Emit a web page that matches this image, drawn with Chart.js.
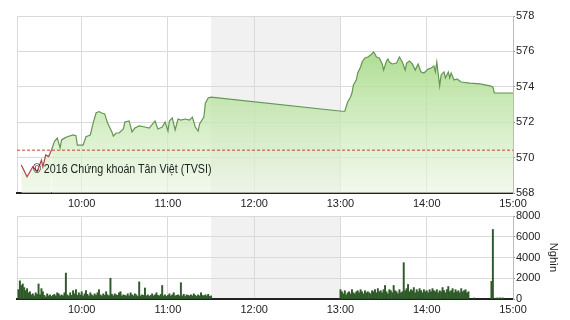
<!DOCTYPE html>
<html>
<head>
<meta charset="utf-8">
<script src="https://cdn.jsdelivr.net/npm/chart.js@4.4.1/dist/chart.umd.min.js"></script>
<style>
  html, body { margin:0; padding:0; background:#fff; }
  #wrap { position:relative; width:570px; height:320px; overflow:hidden; }
  #c1 { position:absolute; left:0; top:0; }
  #c2 { position:absolute; left:0; top:208px; }
  #copy { position:absolute; left:33px; top:162px; font:12px 'Liberation Sans', Arial, sans-serif; color:#222; white-space:nowrap; transform:scaleX(0.89); transform-origin:left center; }
</style>
</head>
<body>
<div id="wrap">
  <canvas id="c1" width="570" height="212"></canvas>
  <canvas id="c2" width="570" height="112"></canvas>
  <div id="copy">© 2016 Chứng khoán Tân Việt (TVSI)</div>
</div>
<script>
// ---------- data ----------
const sessionStart = '09:15';
const sessionEnd = '15:00';
const breakStart = '11:30';
const breakEnd = '13:00';
const hourTicks = ['10:00', '11:00', '12:00', '13:00', '14:00', '15:00'];
const referenceValue = 570.42;
const priceTicks = [568, 570, 572, 574, 576, 578];
const volumeTicks = [0, 2000, 4000, 6000, 8000];
const volumeUnit = 'Nghìn';

const priceTimes = [
  '09:18','09:22','09:26','09:29','09:32','09:33','09:35','09:37','09:39','09:41',
  '09:43','09:45','09:46','09:48','09:50','09:54','09:56','09:57','10:01','10:03',
  '10:06','10:08','10:10','10:12','10:14','10:16','10:18','10:21','10:22','10:24',
  '10:26','10:29','10:30','10:33','10:35','10:37','10:40','10:44','10:47','10:51',
  '10:53','10:56','10:58','11:00','11:01','11:03','11:05','11:07','11:09','11:12',
  '11:15','11:17','11:19','11:21','11:22','11:25','11:26','11:28','11:30',
  '13:01','13:03','13:05','13:07','13:08','13:09','13:11','13:12','13:14','13:15',
  '13:17','13:19','13:21','13:23','13:24','13:25','13:27','13:29','13:30','13:32',
  '13:33','13:34','13:36','13:39','13:40','13:41','13:43','13:45','13:46','13:48',
  '13:50','13:52','13:54','13:56','13:58','14:01','14:03','14:05','14:06','14:07',
  '14:09','14:10','14:12','14:13','14:15','14:16','14:17','14:19','14:21','14:24',
  '14:30','14:37','14:44','14:46','14:47','15:00'
];
const priceValues = [
  569.58,568.92,569.48,569.20,569.86,569.48,570.15,570.06,570.43,570.90,
  571.10,570.55,571.00,571.10,571.18,571.28,571.24,570.71,570.71,571.18,
  571.28,571.96,572.52,572.60,572.52,572.47,571.96,571.45,571.22,571.39,
  571.39,571.62,572.01,572.07,571.45,571.67,571.79,571.73,571.67,572.07,
  571.62,571.73,572.01,571.50,572.07,572.24,571.56,572.18,572.12,572.18,
  572.12,572.29,571.73,571.50,571.90,572.29,573.08,573.37,573.42,
  572.62,572.62,573.14,573.42,573.65,574.10,574.38,574.78,575.12,575.40,
  575.63,575.68,575.80,575.97,575.85,575.68,575.63,575.29,574.95,575.46,
  575.57,575.40,575.29,575.34,575.51,575.68,575.40,574.95,575.34,575.46,
  575.29,574.95,575.29,574.84,574.78,575.00,575.06,575.18,574.84,575.40,
  574.05,574.67,574.84,574.50,574.84,574.50,574.78,574.38,574.44,574.27,
  574.21,574.16,574.05,573.99,573.65,573.65
];

// volume, one bar per minute
const volMorningStart = '09:16';
const volMorning = [
  900,1750,1300,1450,1100,800,1000,600,700,400,
  500,300,600,450,1450,400,1000,700,350,200,
  500,300,400,250,350,450,300,600,500,300,
  400,300,600,2500,400,300,600,350,800,500,
  900,350,600,400,700,300,500,800,450,300,
  600,400,300,500,350,600,900,400,300,500,
  350,700,400,300,2000,450,300,500,400,350,
  600,700,300,400,350,300,500,300,600,400,
  300,500,400,250,1650,300,400,350,1060,300,
  400,250,350,500,300,400,600,350,300,450,
  1300,300,400,250,350,500,300,400,600,300,
  350,400,300,1570,300,450,250,400,350,300,
  400,300,500,350,250,400,300,600,350,300,
  400,300,450,250,300
];
const volAfternoonStart = '13:00';
const volAfternoon = [
  900,700,500,800,400,600,700,500,900,600,
  500,700,800,600,900,700,500,800,600,700,
  600,500,800,700,900,600,1000,700,800,600,
  900,1300,700,500,900,800,600,1300,800,700,
  500,900,600,700,3500,800,1000,1400,700,900,
  800,1100,600,900,700,1000,800,600,900,700,
  800,600,900,700,1000,800,700,900,600,800,
  700,1100,800,600,900,1200,700,800,1000,600,
  900,700,800,600,1000,700,800,900,600,700
];
const volLateTimes = ['14:33','14:45','14:46','14:48','14:49','14:50','14:51','14:52','14:53'];
const volLate = [100,1700,6700,80,100,80,100,80,100];

// ---------- helpers ----------
function toMin(t){ const p = t.split(':'); return (+p[0])*60 + (+p[1]); }
function fmt(m){ const h = Math.floor(m/60), mm = m%60; return h + ':' + (mm<10?'0':'') + mm; }
const FONT = "'Liberation Sans Narrow', 'Liberation Sans', Arial, sans-serif";
const xMin = toMin(sessionStart), xMax = toMin(sessionEnd);
const GRID = '#dadada';

const priceData = priceTimes.map((t,i)=>({x:toMin(t), y:priceValues[i]}));
const volData = [];
volMorning.forEach((v,i)=>volData.push({x:toMin(volMorningStart)+i, y:v}));
volAfternoon.forEach((v,i)=>volData.push({x:toMin(volAfternoonStart)+i, y:v}));
volLateTimes.forEach((t,i)=>volData.push({x:toMin(t), y:volLate[i]}));

const shadePlugin = {
  id:'shade',
  beforeDraw(chart){
    const {ctx, chartArea:a, scales} = chart;
    const x0 = scales.x.getPixelForValue(toMin(breakStart));
    const x1 = scales.x.getPixelForValue(toMin(breakEnd));
    ctx.save();
    ctx.fillStyle = '#f1f1f1';
    ctx.fillRect(x0, a.top, x1-x0, a.bottom-a.top);
    ctx.restore();
  }
};

function xScale(h){
  return {
    type:'linear', min:xMin, max:xMax,
    afterBuildTicks: s => { s.ticks = [xMin, ...hourTicks.map(toMin)].map(v=>({value:v})); },
    ticks:{ callback: v => v===xMin ? '' : fmt(v), font:{family:FONT, size:11}, color:'#222', padding:4, maxRotation:0, autoSkip:false },
    grid:{ color:GRID, drawTicks:false },
    border:{ color:'#222', width:2 },
    afterFit: s => { s.height = h; }
  };
}

Chart.defaults.animation = false;

// ---------- price chart ----------
new Chart(document.getElementById('c1'), {
  type:'line',
  data:{ datasets:[
    {
      data:[{x:xMin, y:referenceValue},{x:xMax, y:referenceValue}],
      borderColor:'#c0452a', borderWidth:1, borderDash:[3,2], pointRadius:0, fill:false, order:0
    },
    {
      data:priceData, order:1,
      borderWidth:1.2, pointRadius:0, tension:0,
      borderColor:'#639652',
      segment:{ borderColor: c => c.p0.parsed.y < referenceValue ? '#b3404a' : '#639652' },
      fill:'start',
      backgroundColor: c => {
        const a = c.chart.chartArea; if (!a) return 'rgba(180,220,160,0.6)';
        const g = c.chart.ctx.createLinearGradient(0, a.top, 0, a.bottom);
        g.addColorStop(0, 'rgba(140,205,105,0.9)');
        g.addColorStop(0.4, 'rgba(180,224,152,0.8)');
        g.addColorStop(1, 'rgba(234,246,226,0.65)');
        return g;
      }
    }
  ]},
  options:{
    responsive:false, events:[],
    layout:{ padding:{ left:17, top:16, right:0, bottom:0 } },
    plugins:{ legend:{display:false}, tooltip:{enabled:false} },
    scales:{
      x: xScale(19),
      y:{
        position:'right', min:priceTicks[0], max:priceTicks[priceTicks.length-1],
        afterBuildTicks: s => { s.ticks = priceTicks.map(v=>({value:v})); },
        ticks:{ callback: v => String(v), font:{family:FONT, size:11}, color:'#222', padding:1 },
        grid:{ color:GRID, tickLength:2, tickColor:'#888' },
        border:{ color:'#bbb' },
        afterFit: s => { s.width = 57; }
      }
    }
  },
  plugins:[shadePlugin]
});

// ---------- volume chart ----------
new Chart(document.getElementById('c2'), {
  type:'bar',
  data:{ datasets:[{ data:volData, backgroundColor:'#2f5a29', barThickness:1.3, borderWidth:0 }] },
  options:{
    responsive:false, events:[],
    layout:{ padding:{ left:17, top:8, right:0, bottom:0 } },
    plugins:{ legend:{display:false}, tooltip:{enabled:false} },
    scales:{
      x: Object.assign(xScale(21), { offset:false, grid:{ color:GRID, drawTicks:false, offset:false } }),
      y:{
        position:'right', min:volumeTicks[0], max:volumeTicks[volumeTicks.length-1],
        afterBuildTicks: s => { s.ticks = volumeTicks.map(v=>({value:v})); },
        ticks:{ callback: v => String(v), font:{family:FONT, size:11}, color:'#222', padding:1 },
        grid:{ color:GRID, tickLength:2, tickColor:'#888' },
        border:{ color:'#bbb' },
        title:{ display:true, text:volumeUnit, font:{family:FONT, size:11}, color:'#222', padding:{top:10, bottom:0} },
        afterFit: s => { s.width = 57; }
      }
    }
  },
  plugins:[shadePlugin]
});
</script>
</body>
</html>
